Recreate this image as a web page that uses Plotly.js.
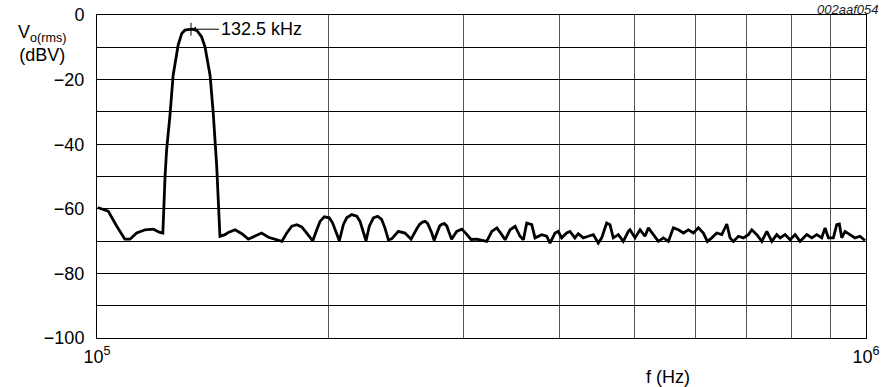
<!DOCTYPE html>
<html>
<head>
<meta charset="utf-8">
<script src="https://cdn.plot.ly/plotly-3.0.1.min.js"></script>
<style>html,body{margin:0;padding:0;background:#fff;}#chart{width:885px;height:387px;}</style>
</head>
<body>
<div id="chart"></div>
<script>
// Frequency in kHz
const freqKHz = [
 100.2,103.4,106.1,108.7,110.4,112.6,115.5,118.4,120.7,121.8,122.6,123.2,124.4,125.6,127.5,128.9,130.1,132.8,134.8,136.8,138.2,140.3,141.6,143.1,144.1,144.5,146.7,148.2,151.2,154.3,157.3,160.5,163.7,167.1,171.3,
 173.9,176.5,179.2,181.9,184.6,187.4,190.8,193.1,195.0,197.5,200.5,202.5,204.6,206.6,209.1,211.2,214.4,217.7,219.8,222.0,223.8,226.0,228.8,231.7,234.5,236.8,239.3,
 241.7,246.5,251.5,256.1,260.5,262.8,265.1,267.1,269.1,272.5,274.4,277.3,279.0,280.8,282.9,285.0,289.1,293.6,298.1,302.6,306.5,311.8,314.8,321.2,326.1,331.1,336.0,339.4,344.5,349.7,354.9,358.5,362.1,367.6,371.2,374.9,378.7,384.4,388.2,394.1,397.9,402.0,408.1,412.1,418.3,422.5,428.9,435.4,442.0,448.6,453.2,460.0,464.6,469.2,476.3,483.5,490.8,493.3,500.8,508.3,516.0,521.2,529.0,537.0,545.1,553.4,561.7,570.2,578.8,587.5,596.4,605.4,614.5,621.9,630.1,639.6,649.3,659.2,665.6,672.3,682.4,692.7,703.2,710.4,721.1,732.0,743.0,754.2,765.5,773.2,784.9,796.7,808.7,820.9,837.5,850.2,862.9,875.9,884.6,893.4,906.9,916.1,923.3,929.9,939.2,953.3,967.6,982.2,997.0
];
// Output level in dBV
const levelDBV = [
 -59.6,-60.7,-65.4,-69.4,-69.4,-67.5,-66.5,-66.3,-67.3,-67.5,-50.0,-41.5,-31.2,-18.7,-9.3,-5.7,-4.7,-4.4,-4.7,-6.8,-9.9,-18.7,-30.1,-46.7,-62.3,-68.5,-68.0,-67.3,-66.5,-67.7,-69.4,-68.5,-67.5,-68.8,-69.6,
 -70.1,-67.5,-65.4,-64.9,-65.6,-67.5,-69.9,-66.5,-63.9,-62.5,-62.8,-64.4,-67.5,-69.9,-64.9,-62.8,-61.8,-62.3,-63.9,-67.5,-69.9,-65.4,-62.8,-62.3,-63.3,-65.9,-69.6,
 -69.3,-67.0,-67.5,-69.4,-66.2,-64.8,-64.1,-63.9,-64.5,-67.5,-69.8,-66.5,-65.3,-64.8,-64.6,-65.3,-69.4,-67.0,-66.3,-67.9,-69.5,-69.4,-69.6,-70.1,-67.0,-65.9,-68.0,-69.6,-66.5,-65.4,-68.5,-69.6,-64.4,-64.9,-69.0,-68.5,-68.0,-68.5,-70.6,-67.5,-67.0,-69.0,-67.5,-67.0,-69.0,-67.7,-69.0,-68.5,-68.0,-70.6,-69.0,-64.4,-64.9,-69.0,-68.0,-70.1,-67.0,-66.5,-69.0,-66.5,-68.5,-65.9,-68.0,-70.1,-69.0,-70.1,-65.9,-66.5,-67.5,-66.5,-67.5,-65.9,-67.5,-70.1,-69.0,-67.5,-68.0,-64.7,-69.0,-70.1,-68.5,-69.0,-68.0,-66.5,-68.0,-70.1,-67.0,-70.1,-68.0,-69.0,-68.0,-69.6,-68.0,-70.1,-68.0,-69.0,-68.0,-69.0,-65.9,-69.0,-69.0,-64.9,-64.7,-69.0,-67.0,-68.0,-69.0,-68.5,-69.8
];
const xTickVals = [1e5,2e5,3e5,4e5,5e5,6e5,7e5,8e5,9e5,1e6];
const xTickText = ['10<sup>5</sup>','','','','','','','','','10<sup>6</sup>'];
const yTickVals = [-100,-90,-80,-70,-60,-50,-40,-30,-20,-10,0];
const yTickText = ['\u2212100','','\u221280','','\u221260','','\u221240','','\u221220','','0'];
const peakFreqHz = 132500;
const peakLevel = -4.4;

const freqHz = freqKHz.map(f => f * 1000);
const font = {family: 'Liberation Sans, Arial, Helvetica, sans-serif', size: 18, color: '#000'};

const trace = {
  x: freqHz, y: levelDBV, type: 'scatter', mode: 'lines',
  line: {color: '#000', width: 2.8}, hoverinfo: 'skip'
};

const layout = {
  width: 885, height: 387,
  margin: {l: 97, r: 19, t: 15, b: 49},
  paper_bgcolor: '#fff', plot_bgcolor: '#fff',
  font: font,
  showlegend: false,
  xaxis: {
    type: 'log', range: [5, 6],
    tickmode: 'array', tickvals: xTickVals, ticktext: xTickText,
    showgrid: true, gridcolor: '#555', gridwidth: 1,
    showline: true, linecolor: '#000', linewidth: 1, mirror: true,
    ticks: '', zeroline: false, tickfont: font, ticklabelstandoff: 2
  },
  yaxis: {
    range: [-100, 0],
    tickmode: 'array', tickvals: yTickVals, ticktext: yTickText,
    showgrid: true, gridcolor: '#000', gridwidth: 1,
    showline: true, linecolor: '#000', linewidth: 1, mirror: true,
    ticks: '', zeroline: false, tickfont: font, ticklabelstandoff: 8
  },
  shapes: [
    {type: 'line', xref: 'x', yref: 'y', x0: peakFreqHz, x1: peakFreqHz, y0: peakLevel - 2, y1: peakLevel + 2,
     line: {color: '#000', width: 1}}
  ],
  annotations: [
    {x: Math.log10(peakFreqHz), y: peakLevel, xref: 'x', yref: 'y', text: '132.5 kHz',
     showarrow: true, arrowhead: 2, arrowsize: 1, arrowwidth: 1, arrowcolor: '#000',
     ax: 28, ay: 0, xanchor: 'left', yanchor: 'middle', font: font, standoff: 0},
    {xref: 'paper', yref: 'paper', x: -0.0715, y: 0.985, xanchor: 'center', yanchor: 'top',
     text: 'V<sub>o(rms)</sub><br>(dBV)', showarrow: false, font: font, align: 'center'},
    {xref: 'paper', yref: 'paper', x: 0.742, y: -0.085, xanchor: 'center', yanchor: 'top',
     text: 'f (Hz)', showarrow: false, font: font},
    {xref: 'paper', yref: 'paper', x: 1.018, y: 1.018, xanchor: 'right', yanchor: 'middle',
     text: '<i>002aaf054</i>', showarrow: false,
     font: {family: 'Liberation Sans, Arial, sans-serif', size: 13, color: '#222'}}
  ]
};

Plotly.newPlot('chart', [trace], layout, {staticPlot: true, displayModeBar: false});
</script>
</body>
</html>
